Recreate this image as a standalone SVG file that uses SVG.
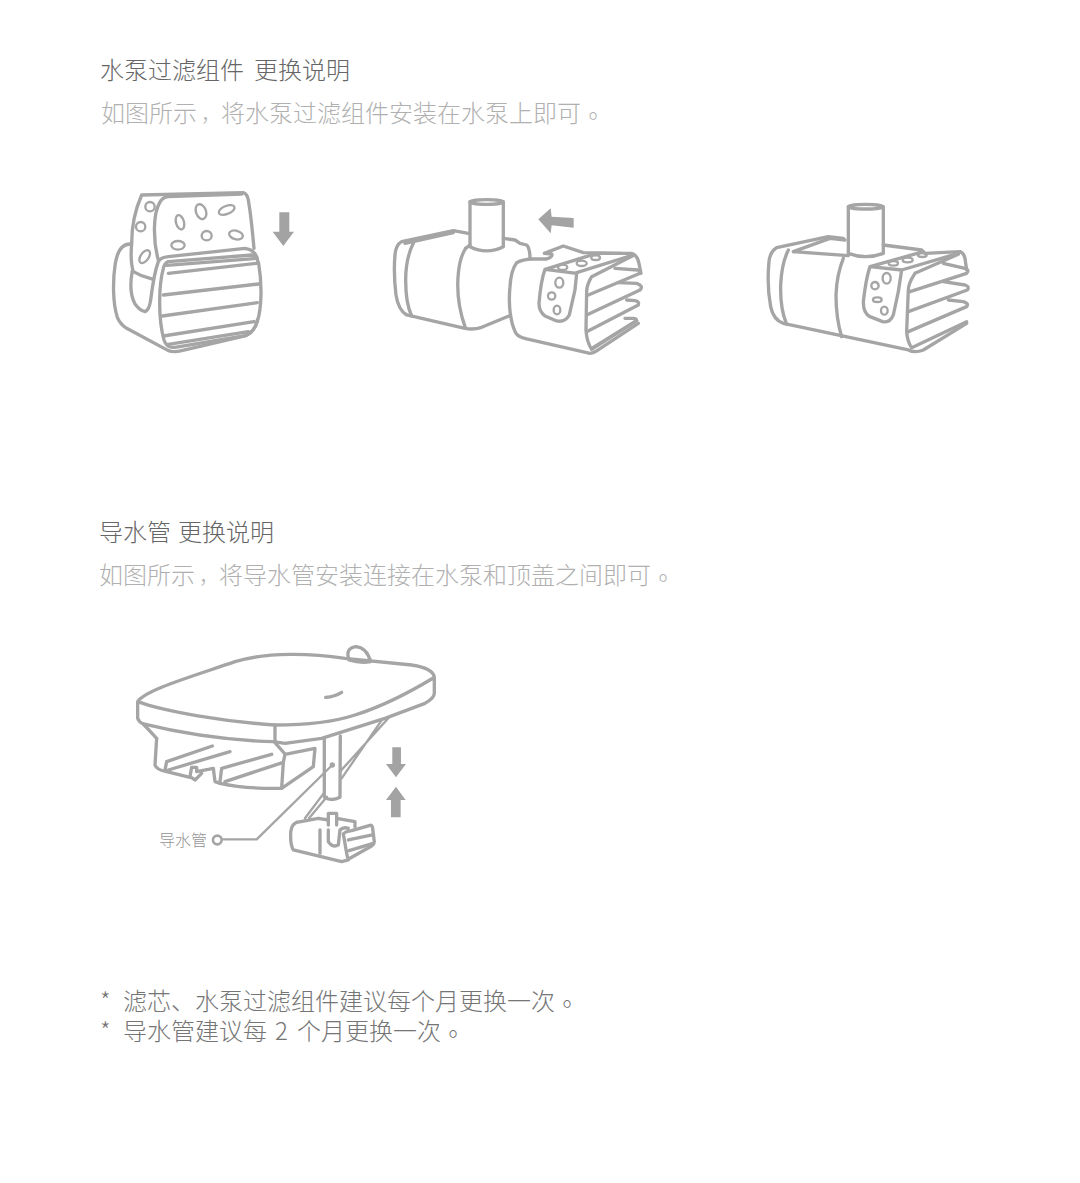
<svg xmlns="http://www.w3.org/2000/svg" width="1080" height="1183" viewBox="0 0 1080 1183">
<style>
text{font-family:"Noto Sans CJK SC","Noto Sans",sans-serif;font-weight:300}
.p{font-family:"Noto Sans CJK TC","Noto Sans",sans-serif}
.c{font-size:20px}
.h{font-size:24px;fill:#666}
.s{font-size:24px;fill:#b0b0b0}
.n{font-size:24px;fill:#757575}
.l{font-size:16px;fill:#959595}
.o{fill:none;stroke:#a5a5a5;stroke-width:10;stroke-linejoin:round;stroke-linecap:round}
.t{fill:none;stroke:#a5a5a5;stroke-width:7;stroke-linejoin:round;stroke-linecap:round}
.a{fill:#a3a3a3}
</style>
<rect width="1080" height="1183" fill="#fff"/>
<g id="text-1">
<text class="h" x="100" y="79">水泵过滤组件<tspan x="254">更换说明</tspan></text>
<text class="s" x="101" y="122">如图所示<tspan class="c" dx="4">，</tspan>将水泵过滤组件安装在水泵上即可<tspan class="p" dy="3">。</tspan></text>
</g>
<g id="filter-sponge" transform="translate(100 180) scale(.3333)">
<path class="o" d="M95 190C95 140 105 90 125 45L430 38Q442 42 445 60C452 100 458 160 462 205"/>
<path class="o" d="M175 240C158 180 160 100 178 70Q186 52 205 50L425 42"/>
<path class="o" d="M95 190C92 225 95 260 100 275Q125 290 155 297"/>
<path class="o" d="M90 192C65 192 52 215 46 250C38 300 38 370 52 412Q60 432 80 445L205 512Q222 518 245 512L435 468Q465 455 472 420"/>
<path class="o" d="M97 272C90 310 90 345 105 372Q120 392 135 395Q148 390 152 360C157 320 162 280 175 245Q182 232 205 230L435 205Q462 208 472 235"/>
<path class="o" d="M205 245L455 225Q470 228 476 250C486 310 486 380 472 425Q462 458 435 467L225 502Q200 505 192 480C175 420 175 320 190 265Q193 250 205 245Z"/>
<path class="o" d="M200 256L462 236M205 280L470 250M190 345L476 312M187 408L472 368M190 468L462 425M205 493L445 455"/>
<ellipse class="t" cx="150" cy="80" rx="14" ry="14"/>
<ellipse class="t" cx="122" cy="140" rx="14" ry="14"/>
<ellipse class="t" cx="134" cy="230" rx="12" ry="22" transform="rotate(35 134 230)"/>
<ellipse class="t" cx="240" cy="127" rx="12" ry="22" transform="rotate(-15 240 127)"/>
<ellipse class="t" cx="303" cy="95" rx="15" ry="23" transform="rotate(-20 303 95)"/>
<ellipse class="t" cx="380" cy="90" rx="25" ry="12" transform="rotate(-22 380 90)"/>
<ellipse class="t" cx="320" cy="167" rx="15" ry="14"/>
<ellipse class="t" cx="408" cy="165" rx="21" ry="13" transform="rotate(15 408 165)"/>
<ellipse class="t" cx="234" cy="196" rx="20" ry="13"/>
<path class="a" d="M538 97H568V155H582L550 198L518 155H538Z"/>
</g>
<g id="pump-open" transform="translate(385 190) scale(.3333)">
<path class="o" d="M250 130L205 122L50 155Q32 165 30 195Q25 250 33 315Q40 360 65 375L240 415Q265 420 290 412L372 378"/>
<path class="o" d="M85 160Q62 205 62 270Q62 340 80 378M60 160L205 128"/>
<path class="o" d="M242 175Q225 200 220 250Q212 330 240 410"/>
<path class="o" d="M255 35V170Q305 195 355 170V35"/>
<ellipse class="o" cx="305" cy="36" rx="50" ry="7"/>
<path class="o" d="M355 145L390 150L405 160L425 165Q435 175 435 205"/>
<path class="o" d="M242 175L255 165"/>
<path class="o" d="M435 207Q410 210 395 218Q378 240 375 290C370 340 375 395 392 428Q398 440 425 447L615 490Q625 490 635 483L760 400"/>
<path class="o" d="M435 207H485Q505 200 500 192L478 190L535 168L595 188L710 190"/>
<path class="o" d="M480 238Q468 270 462 340Q462 365 480 378L515 393Q540 398 553 375L570 300L575 250ZM575 248L745 195M480 238L635 190H740Q757 195 762 220L768 250"/>
<path class="o" d="M620 260Q605 285 605 305L603 420Q605 455 620 478L755 392M620 260L742 198"/>
<path class="o" d="M610 315L760 252Q772 245 758 240L690 235"/>
<path class="o" d="M605 375L765 300Q777 288 755 280L700 278"/>
<path class="o" d="M605 425L760 345Q765 335 750 332L725 330"/>
<path class="o" d="M625 472L750 395Q760 385 745 385L720 385"/>
<ellipse class="t" cx="523" cy="278" rx="12" ry="15"/>
<ellipse class="t" cx="500" cy="318" rx="11" ry="11"/>
<ellipse class="t" cx="516" cy="360" rx="10" ry="13"/>
<ellipse class="t" cx="533" cy="232" rx="14" ry="8"/>
<ellipse class="t" cx="590" cy="220" rx="15" ry="8"/>
<ellipse class="t" cx="632" cy="203" rx="13" ry="7"/>
<path class="a" d="M497 55L500 80L566 84V113L500 106L497 130L460 88Z"/>
</g>
<g id="pump-assembled" transform="translate(760 195) scale(.3333)">
<path class="o" d="M250 130L205 125L50 158Q30 170 27 200Q20 270 32 335Q40 375 70 385L445 465Q465 475 490 465L620 385"/>
<path class="o" d="M85 165Q65 205 62 270Q60 340 80 388M100 170L210 130L255 135M100 170L265 182"/>
<path class="o" d="M250 190Q230 240 228 300Q228 370 245 425"/>
<path class="o" d="M265 35V175Q317 195 370 175V35"/>
<ellipse class="o" cx="317" cy="35" rx="52" ry="7"/>
<path class="o" d="M370 150L485 165L495 175L600 170Q612 175 615 190L620 225"/>
<path class="o" d="M330 215Q318 250 310 320Q310 355 330 365L368 380Q390 385 400 360L415 290L425 225ZM330 215L490 170M425 225L595 175"/>
<path class="o" d="M465 235Q445 265 445 285L440 410Q442 440 455 458L620 380M465 235L595 178"/>
<path class="o" d="M450 290L620 235Q630 225 615 220L550 205"/>
<path class="o" d="M445 350L622 285Q630 275 615 270L550 260"/>
<path class="o" d="M445 410L620 335Q628 325 610 320L565 315"/>
<ellipse class="t" cx="380" cy="250" rx="12" ry="16"/>
<ellipse class="t" cx="345" cy="272" rx="11" ry="11"/>
<ellipse class="t" cx="352" cy="314" rx="13" ry="7"/>
<ellipse class="t" cx="373" cy="347" rx="10" ry="12"/>
<ellipse class="t" cx="400" cy="205" rx="14" ry="7"/>
<ellipse class="t" cx="443" cy="195" rx="15" ry="7"/>
<ellipse class="t" cx="487" cy="180" rx="13" ry="6"/>
</g>
<g id="text-2">
<text class="h" x="99" y="541">导水管<tspan x="178">更换说明</tspan></text>
<text class="s" x="99" y="584">如图所示<tspan class="c" dx="4">，</tspan>将导水管安装连接在水泵和顶盖之间即可<tspan class="p" dy="3">。</tspan></text>
</g>
<g id="lid-assembly" transform="translate(125 640) scale(.3333)">
<path class="o" d="M38 185C60 150 200 110 330 65C430 35 560 40 660 55L860 75Q925 85 928 112C890 135 800 190 690 225C620 248 520 255 450 255C300 245 120 215 38 185V235Q42 247 55 252Q250 300 445 305L480 310L590 295L780 235L900 190Q928 175 928 160V112"/>
<path class="o" d="M450 255V308L480 342"/>
<path class="o" d="M55 252L95 295"/>
<path class="o" d="M672 60Q660 25 692 20Q725 22 737 65Q705 70 672 60Z"/>
<path class="o" d="M602 172Q630 170 650 157"/>
<path class="o" d="M95 295L90 375Q95 390 125 395L195 412"/>
<path class="o" d="M125 365L262 318M125 365L120 390M130 390L315 335"/>
<path class="o" d="M200 382L195 410L210 420L230 400M200 382H215V395L265 385L270 425L285 430Q365 447 465 445"/>
<path class="o" d="M290 385L440 343M290 385L285 425M300 425L475 367"/>
<path class="o" d="M480 343L475 367L470 445L565 380L570 325Z"/>
<path class="o" d="M598 298V472Q620 485 645 472L646 288"/>
<path class="t" d="M600 455L540 535M606 470L552 535"/>
<path class="t" d="M650 415L772 238M645 395L790 235"/>
<path class="t" d="M622 375L395 598H295"/>
<circle cx="622" cy="375" r="8" fill="#a5a5a5"/>
<circle class="t" cx="277" cy="600" r="13" style="stroke-width:8"/>
<path class="o" d="M515 547Q495 555 497 590Q497 615 505 630L650 665L670 660M515 547L580 535L610 540"/>
<path class="o" d="M610 520H635V555M610 520V555M635 535L690 545V560M585 570V640"/>
<path class="o" d="M610 570V605Q625 625 640 615L645 570Q655 560 670 565"/>
<path class="o" d="M655 582Q660 575 680 572L735 556Q742 555 743 565L748 605Q748 612 740 618L675 655Q668 658 666 645Z"/>
<path class="o" d="M670 600L742 585M672 632L745 610"/>
<path class="a" d="M802 322H828V372H843L813 412L783 372H802Z"/>
<path class="a" d="M813 440L842 480H827V532H798V480H783Z"/>
</g>
<text class="l" x="159" y="846">导水管</text>
<g id="text-3">
<text class="n" x="100" y="1010">*<tspan x="123">滤芯、水泵过滤组件建议每个月更换一次</tspan><tspan class="p" dy="3">。</tspan></text>
<text class="n" x="100" y="1040">*<tspan x="123">导水管建议每</tspan><tspan x="275">2</tspan><tspan x="297">个月更换一次</tspan><tspan class="p" dy="3">。</tspan></text>
</g>
</svg>
